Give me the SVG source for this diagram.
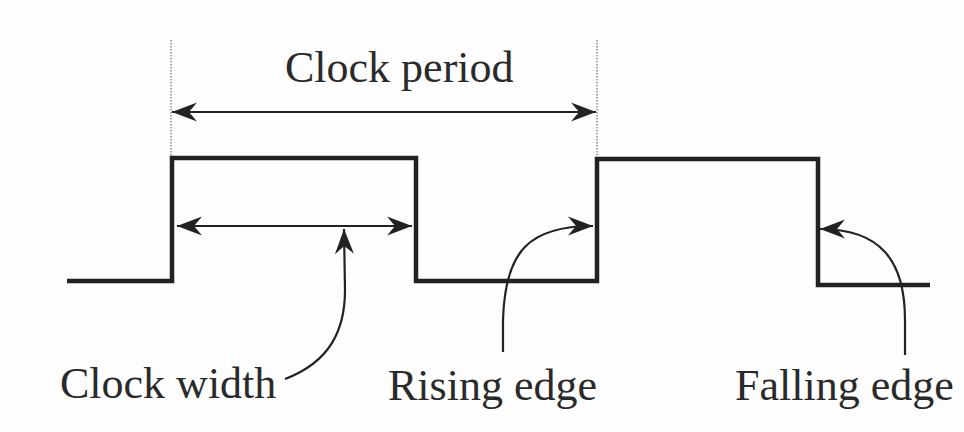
<svg xmlns="http://www.w3.org/2000/svg" width="964" height="432" viewBox="0 0 964 432">
<defs>
<marker id="ah" viewBox="-28 -12 30 24" refX="0" refY="0" markerWidth="30" markerHeight="24" markerUnits="userSpaceOnUse" orient="auto-start-reverse">
<path d="M0,0 L-25,-9.5 L-17,0 L-25,9.5 Z" fill="#222"/>
</marker>
<style>
.lbl{font-family:"Liberation Serif","Times New Roman",serif;font-size:44px;fill:#2a2a2a}
.wave{fill:none;stroke:#222;stroke-width:4.5;stroke-linejoin:miter}
.dim{fill:none;stroke:#222;stroke-width:2.2}
.dot{fill:none;stroke:#555;stroke-width:1;stroke-dasharray:1.5 1.5}
</style>
</defs>
<rect width="964" height="432" fill="#fdfdfd"/>
<g id="waveform">
<path class="wave" d="M67,281 H172 V158 H416 V281 H597 V159 H818 V285 H930"/>
</g>
<g id="connectors">
<line class="dot" x1="171" y1="40" x2="171" y2="156"/>
<line class="dot" x1="597" y1="40" x2="597" y2="156"/>
<line class="dim" x1="172" y1="112" x2="596" y2="112" marker-start="url(#ah)" marker-end="url(#ah)"/>
<line class="dim" x1="177" y1="226" x2="412" y2="226" marker-start="url(#ah)" marker-end="url(#ah)"/>
<path class="dim" d="M285,379 C330,362 345,330 345,290 L344,229" marker-end="url(#ah)"/>
<path class="dim" d="M503,352 L503,320 C505,250 530,226 593,226" marker-end="url(#ah)"/>
<path class="dim" d="M905,355 L905,320 C905,260 880,229 820,229" marker-end="url(#ah)"/>
</g>
<g id="clock-period"><text class="lbl" x="285" y="82">Clock period</text></g>
<g id="clock-width"><text class="lbl" x="60" y="398">Clock width</text></g>
<g id="rising-edge"><text class="lbl" x="388" y="400">Rising edge</text></g>
<g id="falling-edge"><text class="lbl" x="735" y="400">Falling edge</text></g>
</svg>
